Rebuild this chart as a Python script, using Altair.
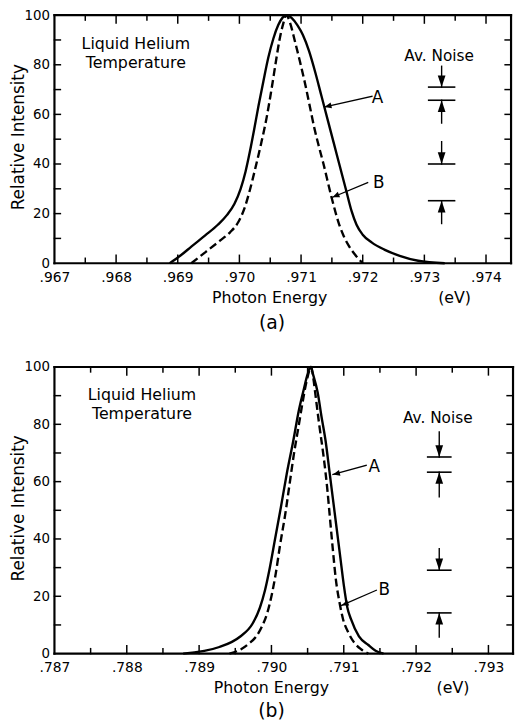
import altair as alt
import pandas as pd

FONT = "DejaVu Sans"

# ---------------- panel (a) : 0.967 - 0.974 eV ----------------
A_XLAB = [0.967, 0.968, 0.969, 0.970, 0.971, 0.972, 0.973, 0.974]
A_XMIN = [0.9675, 0.9685, 0.9695, 0.9705, 0.9715, 0.9725, 0.9735]
A_SOLID_E = [0.96887, 0.96905, 0.96922, 0.96945, 0.96965, 0.96980, 0.96992, 0.97002,
             0.97010, 0.97017, 0.97024, 0.97031, 0.97039, 0.97047, 0.97055, 0.97063,
             0.97070, 0.97077, 0.97085, 0.97094, 0.97103, 0.97113, 0.97123, 0.97133,
             0.97143, 0.97153, 0.97163, 0.97173, 0.97182, 0.97190, 0.97200, 0.97215,
             0.97235, 0.97260, 0.97290, 0.97333]
A_SOLID_I = [0, 3.2, 6.7, 11.3, 15.5, 19.5, 24, 30,
             37, 45, 54, 63.5, 73.5, 83, 90.5, 96,
             99, 100, 98.8, 96, 92, 85.5, 77, 67.5,
             58, 48.5, 39, 29.5, 21, 15.5, 11.5, 8.3,
             5.5, 3, 1, 0]
A_DASH_E = [0.96922, 0.96945, 0.96968, 0.96985, 0.96998, 0.97008, 0.97017, 0.97026,
            0.97035, 0.97044, 0.97052, 0.97059, 0.97065, 0.97071, 0.97076, 0.97082,
            0.97090, 0.97098, 0.97106, 0.97114, 0.97122, 0.97129, 0.97136, 0.97149,
            0.97162, 0.97170, 0.97178, 0.97188, 0.97200]
A_DASH_I = [0, 4.5, 9, 12.5, 16.5, 22, 29.5, 38.5,
            48, 58.5, 70, 81, 90, 96.5, 100, 97,
            89.5, 81.5, 73, 63.5, 54, 47, 40.4, 27,
            15.5, 10.5, 6.8, 3.3, 0]
A_NOISE_X = 0.97328
A_NOISE_HALF = 0.00021
A_NOISE_LINES = [71, 65.7, 40, 25.2]
A_NOISE_ARROWS = [(79.4, 71), (56.5, 65.7), (49, 40), (16, 25.2)]   # (tail, tip)
A_PTR = [("A", 0.97224, 66.6, 0.97215, 67.3, 0.97138, 63.0, 257),
         ("B", 0.97226, 32.3, 0.97208, 32.5, 0.97151, 26.6, 247)]
A_TEXT = [("Liquid Helium", 0.96832, 88.3), ("Temperature", 0.96832, 80.6)]
A_NOISE_TITLE = ("Av. Noise", 0.97324, 83.7)

# ---------------- panel (b) : 0.787 - 0.793 eV ----------------
B_XLAB = [0.787, 0.788, 0.789, 0.790, 0.791, 0.792, 0.793]
B_XMIN = [0.7875, 0.7885, 0.7895, 0.7905, 0.7915, 0.7925]
B_SOLID_E = [0.78878, 0.78928, 0.78956, 0.78974, 0.78984, 0.78991, 0.78997, 0.79005,
             0.79013, 0.79021, 0.79030, 0.79038, 0.79045, 0.79050, 0.79054, 0.79058,
             0.79064, 0.79069, 0.79075, 0.79080, 0.79085, 0.79090, 0.79095, 0.79100,
             0.79105, 0.79110, 0.79121, 0.79134, 0.79144, 0.79155]
B_SOLID_I = [0, 2.3, 5.8, 10.5, 16, 22, 29, 40,
             51, 62.5, 74, 85, 92.5, 97.5, 100, 97,
             91, 83, 74, 64, 54, 44, 34, 24,
             16, 12, 6, 3, 1, 0]
B_DASH_E = [0.78942, 0.78958, 0.78969, 0.78979, 0.78987, 0.78994, 0.79000, 0.79006,
            0.79012, 0.79019, 0.79025, 0.79031, 0.79038, 0.79044, 0.79049, 0.79055,
            0.79058, 0.79061, 0.79066, 0.79072, 0.79077, 0.79081, 0.79085, 0.79089,
            0.79094, 0.79099, 0.79106, 0.79114, 0.79124, 0.79134]
B_DASH_I = [0, 1.5, 3.5, 6, 9.5, 14, 20, 28,
            38, 48.5, 59, 69.5, 80, 89, 95.5, 100,
            96, 90, 80, 69, 58, 47, 36, 26,
            18, 12, 7.5, 4, 1.5, 0]
B_NOISE_X = 0.79232
B_NOISE_HALF = 0.00016
B_NOISE_LINES = [68.6, 63.3, 29.1, 14.2]
B_NOISE_ARROWS = [(77.3, 68.6), (54.7, 63.3), (36.6, 29.1), (5.8, 14.2)]
B_PTR = [("A", 0.79142, 65.1, 0.79131, 65.7, 0.79085, 62.5, 256),
         ("B", 0.79156, 22.1, 0.79145, 22.1, 0.79097, 16.8, 248)]
B_TEXT = [("Liquid Helium", 0.78821, 90.3), ("Temperature", 0.78821, 83.5)]
B_NOISE_TITLE = ("Av. Noise", 0.79230, 82.3)

Y_LABELS = [0, 20, 40, 60, 80, 100]
Y_TICKS = [10, 20, 30, 40, 50, 60, 70, 80, 90]

ARROW_DOWN = "M -0.33 -1 L 0.33 -1 L 0 0 Z"   # tip at origin, body above
ARROW_UP = "M -0.33 1 L 0.33 1 L 0 0 Z"       # tip at origin, body below
PTR_HEAD = "M -0.42 1 L 0.42 1 L 0 0 Z"


def build_panel(xdom, w, h, xlab, xminor, sE, sI, dE, dI, nx, nh, nlines, narrows,
                ptrs, texts, ntitle, tag, ev_x, tag_x, pe_x, pe_dy, ev_dy, tag_dy):
    xmin, xmax = xdom
    px_x = (xmax - xmin) / w
    px_y = 100.0 / h
    xs = alt.Scale(domain=[xmin, xmax], nice=False, zero=False)
    ys = alt.Scale(domain=[0, 100], nice=False, zero=False)
    xaxis = alt.Axis(values=xlab,
                     labelExpr="replace(format(datum.value, '.3f'), '0.', '.')",
                     ticks=False, domain=False, grid=False, labelPadding=7,
                     labelFontSize=14, labelFont=FONT, labelColor="black",
                     labelFlush=False, labelOverlap=False, title=None)
    yaxis = alt.Axis(values=Y_LABELS, ticks=False, domain=False, grid=False,
                     labelPadding=5, labelFontSize=13.5, labelFont=FONT,
                     labelColor="black", labelFlush=False, labelOverlap=False,
                     title=None)

    def X(f):
        return alt.X(f, scale=xs, axis=xaxis)

    def Y(f):
        return alt.Y(f, scale=ys, axis=yaxis)

    solid = alt.Chart(pd.DataFrame({"E": sE, "I": sI})).mark_line(
        color="black", strokeWidth=2.4, interpolate="monotone").encode(x=X("E:Q"), y=Y("I:Q"))
    dashed = alt.Chart(pd.DataFrame({"E": dE, "I": dI})).mark_line(
        color="black", strokeWidth=2.4, strokeDash=[8, 4], interpolate="monotone").encode(
        x=X("E:Q"), y=Y("I:Q"))

    # segments: frame, inward ticks, noise bars, arrow shafts, pointer lines
    seg = [(xmin, xmax, 0, 0, 2.2), (xmin, xmax, 100, 100, 2.2),
           (xmin, xmin, 0, 100, 2.2), (xmax, xmax, 0, 100, 2.2)]
    for t in xlab[1:] + xminor:
        if xmin < t < xmax:
            L = (8 if t in xlab else 5) * px_y
            seg.append((t, t, 0, L, 1.5))
            seg.append((t, t, 100, 100 - L, 1.5))
    for v in Y_TICKS:
        L = 6 * px_x
        seg.append((xmin, xmin + L, v, v, 1.5))
        seg.append((xmax, xmax - L, v, v, 1.5))
    for v in nlines:
        seg.append((nx - nh, nx + nh, v, v, 1.6))
    for tail, tip in narrows:
        seg.append((nx, nx, tail, tip, 1.4))
    for _, lx, ly, x0, y0, x1, y1, _a in ptrs:
        seg.append((x0, x1, y0, y1, 1.3))
    segdf = pd.DataFrame(seg, columns=["E", "E2", "I", "I2", "sw"])
    rules = alt.Chart(segdf).mark_rule(color="black", strokeCap="square").encode(
        x=X("E:Q"), x2="E2:Q", y=Y("I:Q"), y2="I2:Q",
        strokeWidth=alt.StrokeWidth("sw:Q", scale=None))

    heads = []
    for tail, tip in narrows:
        heads.append((nx, tip, ARROW_DOWN if tail > tip else ARROW_UP, 0, 560))
    for _, lx, ly, x0, y0, x1, y1, ang in ptrs:
        heads.append((x1, y1, PTR_HEAD, ang, 200))
    hdf = pd.DataFrame(heads, columns=["E", "I", "shp", "ang", "sz"])
    headmk = alt.Chart(hdf).mark_point(filled=True, color="black", opacity=1,
                                       strokeWidth=0).encode(
        x=X("E:Q"), y=Y("I:Q"),
        shape=alt.Shape("shp:N", scale=None),
        angle=alt.Angle("ang:Q", scale=None),
        size=alt.Size("sz:Q", scale=None))

    trows = [(t, x, y, 16) for t, x, y in texts]
    trows.append((ntitle[0], ntitle[1], ntitle[2], 15.5))
    trows += [(lab, lx, ly, 17) for lab, lx, ly, *_ in ptrs]
    tdf = pd.DataFrame(trows, columns=["txt", "E", "I", "fs"])
    textmk = alt.Chart(tdf).mark_text(font=FONT, color="black", align="center",
                                      baseline="middle").encode(
        x=X("E:Q"), y=Y("I:Q"), text="txt:N", size=alt.Size("fs:Q", scale=None))

    # texts under the x axis: axis title, unit, panel tag
    under = pd.DataFrame({"E": [pe_x, ev_x, tag_x],
                          "txt": ["Photon Energy", "(eV)", tag],
                          "dy": [h + pe_dy, h + ev_dy, h + tag_dy],
                          "fs": [16, 16, 19]})
    undermk = alt.Chart(under).mark_text(font=FONT, color="black", align="center",
                                         baseline="middle").encode(
        x=X("E:Q"), y=alt.Y("dy:Q", scale=None), text="txt:N",
        size=alt.Size("fs:Q", scale=None))

    ytitle = alt.Chart(pd.DataFrame({"txt": ["Relative Intensity"]})).mark_text(
        font=FONT, fontSize=17, color="black", align="center", baseline="middle",
        angle=270).encode(x=alt.value(-36), y=alt.value(h / 2 - 2), text="txt:N")

    return alt.layer(rules, solid, dashed, headmk, textmk, undermk, ytitle).properties(
        width=w, height=h)


top = build_panel((0.967, 0.974406), 462, 251, A_XLAB, A_XMIN, A_SOLID_E, A_SOLID_I,
                  A_DASH_E, A_DASH_I, A_NOISE_X, A_NOISE_HALF, A_NOISE_LINES,
                  A_NOISE_ARROWS, A_PTR, A_TEXT, A_NOISE_TITLE, "(a)", 0.97349, 0.97053,
                  0.97049, 35, 35, 61)
bottom = build_panel((0.787, 0.79334), 464, 290, B_XLAB, B_XMIN, B_SOLID_E, B_SOLID_I,
                     B_DASH_E, B_DASH_I, B_NOISE_X, B_NOISE_HALF, B_NOISE_LINES,
                     B_NOISE_ARROWS, B_PTR, B_TEXT, B_NOISE_TITLE, "(b)", 0.79251, 0.79000,
                     0.79, 35, 35, 58)

chart = alt.vconcat(top, bottom, spacing=27).properties(
    padding={"left": 2, "top": -4, "right": 0, "bottom": 0}
).configure(font=FONT, background="white").configure_view(stroke=None)

chart.save("out.html", embed_options={"renderer": "svg", "actions": False})
